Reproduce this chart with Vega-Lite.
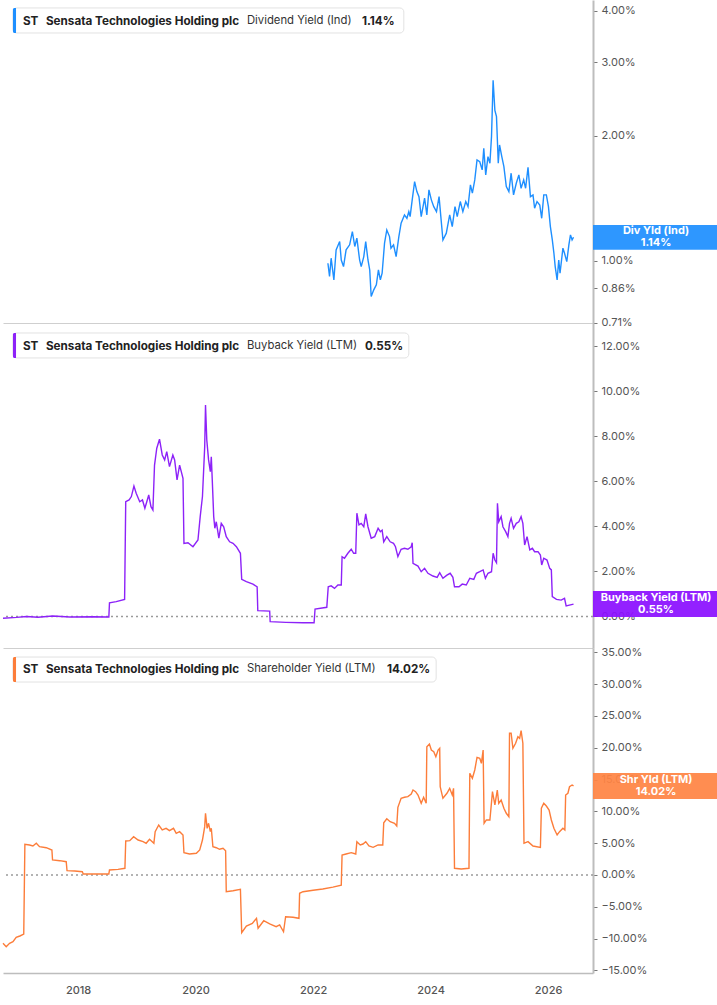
{
"$schema":"https://vega.github.io/schema/vega-lite/v6.json",
"padding":0,
"background":"white",
"spacing":0,
"bounds":"flush",
"config":{"view":{"stroke":null},"font":"Inter","axis":{"labelFont":"Inter","labelFontSize":11,"labelColor":"#555","grid":false,"domainColor":"#bdbdbd","tickColor":"#777"}},
"datasets":{
"div":[{"date":"2022-04-03","value":0.987},{"date":"2022-04-13","value":0.917},{"date":"2022-04-23","value":1.015},{"date":"2022-05-10","value":0.90},{"date":"2022-05-24","value":1.063},{"date":"2022-06-15","value":1.113},{"date":"2022-06-25","value":1.005},{"date":"2022-07-09","value":0.969},{"date":"2022-07-25","value":1.063},{"date":"2022-08-16","value":1.093},{"date":"2022-09-02","value":1.176},{"date":"2022-09-17","value":1.083},{"date":"2022-09-30","value":1.134},{"date":"2022-10-17","value":1.005},{"date":"2022-10-27","value":0.969},{"date":"2022-11-12","value":1.024},{"date":"2022-11-24","value":1.113},{"date":"2022-12-08","value":1.005},{"date":"2022-12-19","value":0.951},{"date":"2022-12-28","value":0.821},{"date":"2023-01-13","value":0.852},{"date":"2023-01-29","value":0.876},{"date":"2023-02-11","value":0.951},{"date":"2023-02-23","value":0.90},{"date":"2023-03-06","value":0.934},{"date":"2023-03-21","value":1.103},{"date":"2023-04-04","value":1.187},{"date":"2023-04-21","value":1.144},{"date":"2023-04-30","value":1.073},{"date":"2023-05-16","value":1.093},{"date":"2023-06-01","value":1.024},{"date":"2023-06-18","value":1.144},{"date":"2023-07-02","value":1.232},{"date":"2023-07-23","value":1.290},{"date":"2023-08-07","value":1.266},{"date":"2023-08-19","value":1.314},{"date":"2023-08-27","value":1.278},{"date":"2023-09-09","value":1.402},{"date":"2023-09-24","value":1.551},{"date":"2023-10-08","value":1.468},{"date":"2023-10-21","value":1.427},{"date":"2023-11-04","value":1.278},{"date":"2023-11-25","value":1.415},{"date":"2023-12-09","value":1.290},{"date":"2023-12-22","value":1.482},{"date":"2024-01-06","value":1.402},{"date":"2024-01-21","value":1.350},{"date":"2024-02-07","value":1.314},{"date":"2024-02-23","value":1.427},{"date":"2024-03-05","value":1.278},{"date":"2024-03-18","value":1.123},{"date":"2024-04-08","value":1.166},{"date":"2024-04-29","value":1.290},{"date":"2024-05-15","value":1.209},{"date":"2024-06-01","value":1.350},{"date":"2024-06-15","value":1.278},{"date":"2024-07-04","value":1.389},{"date":"2024-07-20","value":1.314},{"date":"2024-08-07","value":1.389},{"date":"2024-08-21","value":1.350},{"date":"2024-09-05","value":1.523},{"date":"2024-09-17","value":1.455},{"date":"2024-10-02","value":1.566},{"date":"2024-10-16","value":1.749},{"date":"2024-11-02","value":1.732},{"date":"2024-11-17","value":1.655},{"date":"2024-11-27","value":1.865},{"date":"2024-12-09","value":1.610},{"date":"2024-12-23","value":1.781},{"date":"2025-01-04","value":1.717},{"date":"2025-01-14","value":1.990},{"date":"2025-01-24","value":2.72},{"date":"2025-02-04","value":2.30},{"date":"2025-02-14","value":2.222},{"date":"2025-02-25","value":1.717},{"date":"2025-03-05","value":1.900},{"date":"2025-03-19","value":1.781},{"date":"2025-04-01","value":1.685},{"date":"2025-04-16","value":1.509},{"date":"2025-05-02","value":1.468},{"date":"2025-05-16","value":1.625},{"date":"2025-05-31","value":1.441},{"date":"2025-06-17","value":1.537},{"date":"2025-07-03","value":1.610},{"date":"2025-07-17","value":1.495},{"date":"2025-08-02","value":1.566},{"date":"2025-08-14","value":1.495},{"date":"2025-08-29","value":1.679},{"date":"2025-09-13","value":1.427},{"date":"2025-09-29","value":1.441},{"date":"2025-10-09","value":1.339},{"date":"2025-10-24","value":1.389},{"date":"2025-11-10","value":1.363},{"date":"2025-11-22","value":1.266},{"date":"2025-12-05","value":1.441},{"date":"2025-12-21","value":1.441},{"date":"2026-01-03","value":1.350},{"date":"2026-01-15","value":1.209},{"date":"2026-01-27","value":1.123},{"date":"2026-02-06","value":1.043},{"date":"2026-02-14","value":0.969},{"date":"2026-02-26","value":0.90},{"date":"2026-03-08","value":1.005},{"date":"2026-03-16","value":0.934},{"date":"2026-04-03","value":1.073},{"date":"2026-04-13","value":1.043},{"date":"2026-04-27","value":0.996},{"date":"2026-05-10","value":1.093},{"date":"2026-05-20","value":1.155},{"date":"2026-05-30","value":1.123},{"date":"2026-06-08","value":1.14}],
"bb":[{"date":"2016-09-21","value":-0.08},{"date":"2016-12-15","value":-0.04},{"date":"2017-02-14","value":0.0},{"date":"2017-04-26","value":-0.03},{"date":"2017-07-28","value":0.02},{"date":"2017-11-10","value":-0.02},{"date":"2018-04-03","value":-0.01},{"date":"2018-07-11","value":-0.02},{"date":"2018-07-15","value":0.61},{"date":"2018-08-26","value":0.66},{"date":"2018-10-17","value":0.76},{"date":"2018-10-24","value":5.10},{"date":"2018-11-14","value":5.18},{"date":"2018-11-28","value":5.33},{"date":"2018-12-14","value":5.80},{"date":"2018-12-28","value":5.48},{"date":"2019-01-19","value":5.10},{"date":"2019-02-05","value":5.18},{"date":"2019-02-20","value":4.81},{"date":"2019-03-04","value":5.10},{"date":"2019-03-16","value":5.40},{"date":"2019-03-30","value":4.88},{"date":"2019-04-11","value":4.73},{"date":"2019-04-21","value":6.73},{"date":"2019-05-05","value":7.48},{"date":"2019-05-22","value":7.88},{"date":"2019-06-08","value":7.18},{"date":"2019-06-23","value":6.96},{"date":"2019-07-06","value":7.33},{"date":"2019-07-23","value":6.66},{"date":"2019-08-13","value":7.18},{"date":"2019-08-24","value":6.96},{"date":"2019-09-08","value":6.07},{"date":"2019-09-24","value":6.73},{"date":"2019-10-15","value":6.14},{"date":"2019-10-21","value":3.25},{"date":"2019-11-15","value":3.28},{"date":"2019-12-16","value":3.10},{"date":"2020-01-16","value":3.40},{"date":"2020-01-30","value":4.44},{"date":"2020-02-13","value":5.33},{"date":"2020-02-27","value":7.55},{"date":"2020-03-03","value":9.40},{"date":"2020-03-11","value":7.84},{"date":"2020-03-22","value":6.96},{"date":"2020-04-02","value":6.44},{"date":"2020-04-08","value":7.10},{"date":"2020-04-14","value":6.07},{"date":"2020-04-23","value":4.44},{"date":"2020-04-30","value":3.92},{"date":"2020-05-09","value":4.21},{"date":"2020-05-25","value":3.48},{"date":"2020-06-09","value":4.14},{"date":"2020-06-24","value":3.99},{"date":"2020-07-10","value":3.55},{"date":"2020-07-31","value":3.32},{"date":"2020-08-21","value":3.25},{"date":"2020-09-11","value":3.10},{"date":"2020-10-06","value":2.81},{"date":"2020-10-14","value":1.65},{"date":"2020-11-12","value":1.55},{"date":"2020-12-23","value":1.44},{"date":"2021-01-18","value":1.32},{"date":"2021-01-22","value":0.26},{"date":"2021-04-06","value":0.24},{"date":"2021-04-09","value":-0.23},{"date":"2021-07-16","value":-0.26},{"date":"2021-10-30","value":-0.28},{"date":"2022-01-07","value":-0.28},{"date":"2022-01-13","value":0.33},{"date":"2022-03-27","value":0.41},{"date":"2022-04-05","value":1.32},{"date":"2022-04-23","value":1.36},{"date":"2022-05-14","value":1.25},{"date":"2022-06-04","value":1.40},{"date":"2022-06-25","value":1.40},{"date":"2022-06-30","value":2.66},{"date":"2022-07-15","value":2.59},{"date":"2022-08-05","value":2.81},{"date":"2022-08-26","value":2.99},{"date":"2022-09-10","value":2.81},{"date":"2022-09-23","value":2.81},{"date":"2022-09-30","value":4.59},{"date":"2022-10-13","value":4.07},{"date":"2022-10-27","value":4.14},{"date":"2022-11-12","value":3.99},{"date":"2022-11-24","value":4.56},{"date":"2022-12-08","value":3.99},{"date":"2022-12-28","value":3.48},{"date":"2023-01-19","value":3.55},{"date":"2023-02-09","value":3.92},{"date":"2023-02-23","value":3.77},{"date":"2023-03-06","value":3.84},{"date":"2023-03-16","value":3.32},{"date":"2023-04-04","value":3.55},{"date":"2023-04-25","value":3.32},{"date":"2023-05-16","value":3.25},{"date":"2023-05-28","value":3.10},{"date":"2023-06-12","value":2.66},{"date":"2023-07-02","value":2.99},{"date":"2023-07-23","value":3.03},{"date":"2023-08-13","value":2.99},{"date":"2023-09-03","value":3.10},{"date":"2023-09-09","value":3.28},{"date":"2023-09-14","value":2.36},{"date":"2023-10-15","value":2.24},{"date":"2023-11-04","value":1.99},{"date":"2023-11-25","value":2.14},{"date":"2023-12-16","value":1.92},{"date":"2024-01-16","value":1.80},{"date":"2024-02-11","value":1.74},{"date":"2024-02-27","value":1.95},{"date":"2024-03-18","value":1.70},{"date":"2024-04-12","value":1.84},{"date":"2024-05-02","value":1.92},{"date":"2024-05-19","value":1.74},{"date":"2024-05-29","value":1.32},{"date":"2024-06-26","value":1.32},{"date":"2024-07-16","value":1.44},{"date":"2024-08-10","value":1.40},{"date":"2024-09-01","value":1.70},{"date":"2024-09-26","value":1.65},{"date":"2024-10-12","value":1.92},{"date":"2024-11-02","value":1.99},{"date":"2024-11-23","value":2.07},{"date":"2024-12-07","value":1.70},{"date":"2024-12-23","value":1.92},{"date":"2025-01-14","value":1.99},{"date":"2025-01-24","value":2.81},{"date":"2025-02-04","value":2.51},{"date":"2025-02-14","value":2.39},{"date":"2025-02-20","value":5.03},{"date":"2025-02-28","value":4.21},{"date":"2025-03-15","value":4.44},{"date":"2025-03-26","value":3.99},{"date":"2025-04-12","value":3.77},{"date":"2025-04-26","value":3.55},{"date":"2025-05-06","value":4.14},{"date":"2025-05-16","value":4.36},{"date":"2025-05-31","value":3.92},{"date":"2025-06-17","value":4.14},{"date":"2025-07-03","value":4.21},{"date":"2025-07-17","value":4.44},{"date":"2025-07-28","value":4.14},{"date":"2025-08-08","value":3.18},{"date":"2025-08-23","value":3.55},{"date":"2025-09-09","value":2.96},{"date":"2025-09-25","value":3.03},{"date":"2025-10-09","value":2.88},{"date":"2025-10-30","value":2.88},{"date":"2025-11-14","value":2.73},{"date":"2025-11-22","value":2.29},{"date":"2025-12-05","value":2.59},{"date":"2025-12-25","value":2.51},{"date":"2026-01-11","value":2.14},{"date":"2026-01-21","value":2.07},{"date":"2026-01-27","value":0.88},{"date":"2026-02-22","value":0.76},{"date":"2026-03-23","value":0.73},{"date":"2026-04-13","value":0.81},{"date":"2026-04-23","value":0.47},{"date":"2026-06-08","value":0.55}],
"shy":[{"date":"2016-09-21","value":-10.74},{"date":"2016-10-11","value":-11.27},{"date":"2016-11-01","value":-10.74},{"date":"2016-11-22","value":-10.48},{"date":"2016-12-12","value":-9.80},{"date":"2017-01-04","value":-9.59},{"date":"2017-01-28","value":-9.28},{"date":"2017-02-04","value":4.82},{"date":"2017-03-05","value":4.72},{"date":"2017-03-26","value":4.56},{"date":"2017-04-16","value":4.98},{"date":"2017-05-06","value":4.45},{"date":"2017-06-17","value":4.29},{"date":"2017-07-22","value":3.93},{"date":"2017-07-26","value":2.36},{"date":"2017-09-09","value":2.25},{"date":"2017-10-19","value":2.09},{"date":"2017-10-24","value":0.68},{"date":"2017-12-11","value":0.63},{"date":"2018-01-27","value":0.52},{"date":"2018-02-02","value":0.16},{"date":"2018-04-23","value":0.16},{"date":"2018-07-11","value":0.16},{"date":"2018-07-15","value":0.79},{"date":"2018-09-06","value":0.89},{"date":"2018-10-19","value":1.05},{"date":"2018-10-24","value":5.35},{"date":"2018-11-18","value":5.40},{"date":"2018-12-12","value":6.03},{"date":"2019-01-09","value":5.50},{"date":"2019-02-09","value":5.24},{"date":"2019-02-28","value":4.98},{"date":"2019-03-21","value":5.61},{"date":"2019-04-17","value":4.98},{"date":"2019-04-25","value":6.81},{"date":"2019-05-17","value":7.86},{"date":"2019-06-08","value":7.08},{"date":"2019-07-02","value":7.34},{"date":"2019-07-23","value":6.97},{"date":"2019-08-17","value":7.34},{"date":"2019-09-03","value":6.56},{"date":"2019-09-24","value":6.81},{"date":"2019-10-15","value":6.29},{"date":"2019-10-21","value":3.51},{"date":"2019-11-25","value":3.30},{"date":"2020-01-06","value":3.41},{"date":"2020-01-27","value":3.93},{"date":"2020-02-13","value":5.50},{"date":"2020-02-27","value":7.60},{"date":"2020-03-03","value":9.70},{"date":"2020-03-13","value":7.34},{"date":"2020-03-22","value":8.13},{"date":"2020-04-02","value":6.81},{"date":"2020-04-08","value":7.34},{"date":"2020-04-18","value":4.45},{"date":"2020-05-09","value":4.29},{"date":"2020-05-29","value":4.04},{"date":"2020-06-20","value":4.20},{"date":"2020-07-06","value":3.82},{"date":"2020-07-10","value":-2.63},{"date":"2020-08-21","value":-2.47},{"date":"2020-10-06","value":-2.25},{"date":"2020-10-14","value":-9.07},{"date":"2020-11-12","value":-8.02},{"date":"2020-12-19","value":-7.60},{"date":"2021-01-14","value":-6.81},{"date":"2021-01-24","value":-8.38},{"date":"2021-02-28","value":-7.19},{"date":"2021-04-06","value":-7.70},{"date":"2021-05-16","value":-8.13},{"date":"2021-06-07","value":-7.86},{"date":"2021-07-01","value":-8.92},{"date":"2021-07-14","value":-6.56},{"date":"2021-08-29","value":-6.65},{"date":"2021-10-05","value":-6.81},{"date":"2021-10-09","value":-2.88},{"date":"2021-10-30","value":-2.63},{"date":"2022-01-01","value":-2.4},{"date":"2022-03-02","value":-2.2},{"date":"2022-05-04","value":-1.9},{"date":"2022-06-25","value":-1.6},{"date":"2022-06-30","value":3.14},{"date":"2022-07-25","value":3.30},{"date":"2022-08-26","value":3.51},{"date":"2022-09-23","value":3.30},{"date":"2022-09-30","value":5.24},{"date":"2022-10-21","value":4.72},{"date":"2022-11-07","value":4.87},{"date":"2022-11-24","value":5.24},{"date":"2022-12-14","value":4.56},{"date":"2023-01-09","value":4.35},{"date":"2023-02-09","value":4.72},{"date":"2023-03-10","value":4.72},{"date":"2023-03-16","value":8.22},{"date":"2023-04-04","value":8.85},{"date":"2023-04-25","value":8.38},{"date":"2023-05-22","value":8.13},{"date":"2023-06-05","value":7.70},{"date":"2023-06-12","value":10.64},{"date":"2023-07-02","value":12.06},{"date":"2023-07-23","value":12.22},{"date":"2023-08-13","value":12.32},{"date":"2023-09-03","value":12.74},{"date":"2023-09-14","value":13.36},{"date":"2023-09-30","value":13.10},{"date":"2023-10-15","value":12.58},{"date":"2023-11-04","value":11.27},{"date":"2023-11-19","value":12.22},{"date":"2023-12-05","value":11.27},{"date":"2023-12-09","value":20.17},{"date":"2023-12-25","value":20.60},{"date":"2024-01-06","value":19.65},{"date":"2024-01-21","value":19.39},{"date":"2024-02-03","value":18.60},{"date":"2024-02-17","value":19.65},{"date":"2024-02-27","value":19.92},{"date":"2024-03-01","value":13.88},{"date":"2024-03-18","value":12.06},{"date":"2024-04-12","value":12.85},{"date":"2024-04-29","value":13.63},{"date":"2024-05-15","value":12.58},{"date":"2024-05-23","value":13.63},{"date":"2024-05-29","value":1.05},{"date":"2024-07-10","value":0.94},{"date":"2024-08-27","value":1.05},{"date":"2024-09-01","value":15.99},{"date":"2024-09-17","value":15.20},{"date":"2024-10-02","value":16.51},{"date":"2024-10-16","value":18.50},{"date":"2024-11-02","value":18.35},{"date":"2024-11-12","value":17.56},{"date":"2024-11-23","value":19.65},{"date":"2024-11-29","value":8.13},{"date":"2024-12-13","value":8.65},{"date":"2025-01-04","value":8.65},{"date":"2025-01-20","value":13.10},{"date":"2025-02-04","value":11.01},{"date":"2025-02-19","value":13.36},{"date":"2025-02-28","value":11.27},{"date":"2025-03-15","value":11.79},{"date":"2025-04-01","value":10.49},{"date":"2025-04-16","value":9.70},{"date":"2025-05-02","value":9.17},{"date":"2025-05-06","value":22.28},{"date":"2025-05-16","value":22.28},{"date":"2025-05-27","value":19.92},{"date":"2025-06-13","value":20.71},{"date":"2025-06-27","value":21.75},{"date":"2025-07-08","value":21.49},{"date":"2025-07-17","value":22.69},{"date":"2025-07-28","value":20.71},{"date":"2025-08-04","value":4.98},{"date":"2025-08-29","value":5.24},{"date":"2025-09-29","value":4.56},{"date":"2025-11-14","value":4.35},{"date":"2025-11-20","value":10.49},{"date":"2025-12-05","value":11.27},{"date":"2025-12-21","value":10.85},{"date":"2026-01-07","value":10.22},{"date":"2026-01-21","value":8.65},{"date":"2026-02-06","value":7.34},{"date":"2026-02-26","value":6.29},{"date":"2026-03-13","value":6.81},{"date":"2026-04-03","value":7.34},{"date":"2026-04-15","value":7.08},{"date":"2026-04-20","value":12.58},{"date":"2026-05-04","value":12.85},{"date":"2026-05-14","value":13.88},{"date":"2026-05-30","value":14.15},{"date":"2026-06-08","value":14.02}]
},
"vconcat":[
{"width":590,"height":323,
"layer":[
{"data":{"name":"div"},"mark":{"type":"line","color":"#1e8fff","strokeWidth":1.4},
"encoding":{"x":{"field":"date","type":"temporal","scale":{"domain":[{"year":2016,"month":9,"date":21},{"year":2026,"month":10,"date":7}]},"axis":{"title":null,"labels":false,"ticks":false,"domainColor":"#cfcfcf","domainWidth":1}},
"y":{"field":"value","type":"quantitative","scale":{"type":"log","domain":[0.709,4.24],"nice":false},"axis":{"orient":"right","title":null,"values":[0.71,0.86,1,2,3,4],"tickCount":20,"labelExpr":"format(datum.value,'.2f')+'%'","domainWidth":2,"tickSize":4,"labelPadding":4,"labelOverlap":false}}}},
{"data":{"values":[{}]},"mark":{"type":"rect","fill":"white","stroke":"#e2e2e2","strokeWidth":1,"cornerRadius":4},
"encoding":{"x":{"datum":{"year":2016,"month":11,"date":22},"type":"temporal","title":null},"x2":{"datum":{"year":2023,"month":7,"date":19}},"y":{"datum":4.057,"title":null},"y2":{"datum":3.532}}},
{"data":{"values":[{}]},"mark":{"type":"rect","fill":"#1e8fff","cornerRadiusTopLeft":3,"cornerRadiusBottomLeft":3},
"encoding":{"x":{"datum":{"year":2016,"month":11,"date":22},"type":"temporal","title":null},"x2":{"datum":{"year":2016,"month":12,"date":11}},"y":{"datum":4.057,"title":null},"y2":{"datum":3.532}}},
{"data":{"values":[{}]},"mark":{"type":"text","text":"ST","align":"left","baseline":"middle","fontSize":11.7,"fontWeight":"bold","color":"#222"},
"encoding":{"x":{"datum":{"year":2017,"month":1,"date":23},"type":"temporal","title":null},"y":{"datum":3.785,"title":null}}},
{"data":{"values":[{}]},"mark":{"type":"text","text":"Sensata Technologies Holding plc","align":"left","baseline":"middle","dx":23,"fontSize":11.7,"fontWeight":"bold","color":"#222"},
"encoding":{"x":{"datum":{"year":2017,"month":1,"date":23},"type":"temporal","title":null},"y":{"datum":3.785,"title":null}}},
{"data":{"values":[{}]},"mark":{"type":"text","text":"Dividend Yield (Ind)","align":"left","baseline":"middle","dx":224,"fontSize":11.3,"fontWeight":"normal","color":"#333"},
"encoding":{"x":{"datum":{"year":2017,"month":1,"date":23},"type":"temporal","title":null},"y":{"datum":3.785,"title":null}}},
{"data":{"values":[{}]},"mark":{"type":"text","text":"1.14%","align":"left","baseline":"middle","dx":339,"fontSize":11.7,"fontWeight":"bold","color":"#222"},
"encoding":{"x":{"datum":{"year":2017,"month":1,"date":23},"type":"temporal","title":null},"y":{"datum":3.785,"title":null}}},
{"data":{"values":[{}]},"mark":{"type":"rect","fill":"#1e8fff","fillOpacity":0.93},
"encoding":{"x":{"datum":{"year":2026,"month":10,"date":7},"type":"temporal","title":null},"x2":{"datum":{"year":2028,"month":12,"date":1}},"y":{"datum":1.22,"title":null},"y2":{"datum":1.063}}},
{"data":{"values":[{}]},"mark":{"type":"text","text":"Div Yld (Ind)","align":"center","baseline":"middle","dy":-6,"fontSize":11,"fontWeight":"bold","color":"white"},
"encoding":{"x":{"datum":{"year":2027,"month":11,"date":3},"type":"temporal","title":null},"y":{"datum":1.14,"title":null}}},
{"data":{"values":[{}]},"mark":{"type":"text","text":"1.14%","align":"center","baseline":"middle","dy":6,"fontSize":11,"fontWeight":"bold","color":"white"},
"encoding":{"x":{"datum":{"year":2027,"month":11,"date":3},"type":"temporal","title":null},"y":{"datum":1.14,"title":null}}}
]},
{"width":590,"height":325,
"layer":[
{"data":{"values":[{}]},"mark":{"type":"rule","color":"#9a9a9a","strokeDash":[2,3],"strokeWidth":1.5},"encoding":{"y":{"datum":0,"type":"quantitative","scale":{"domain":[-1.4,13.044],"nice":false,"zero":false},"axis":{"orient":"right","title":null,"values":[0,2,4,6,8,10,12],"tickCount":20,"labelExpr":"format(datum.value,'.2f')+'%'","domainWidth":2,"tickSize":4,"labelPadding":4,"labelOverlap":false}}}},
{"data":{"name":"bb"},"mark":{"type":"line","color":"#8d22f8","strokeWidth":1.4},
"encoding":{"x":{"field":"date","type":"temporal","scale":{"domain":[{"year":2016,"month":9,"date":21},{"year":2026,"month":10,"date":7}]},"axis":{"title":null,"labels":false,"ticks":false,"domainColor":"#cfcfcf","domainWidth":1}},
"y":{"field":"value","type":"quantitative","scale":{"domain":[-1.4,13.044],"nice":false,"zero":false},"axis":{"orient":"right","title":null,"values":[0,2,4,6,8,10,12],"tickCount":20,"labelExpr":"format(datum.value,'.2f')+'%'","domainWidth":2,"tickSize":4,"labelPadding":4,"labelOverlap":false}}}},
{"data":{"values":[{}]},"mark":{"type":"rect","fill":"white","stroke":"#e2e2e2","strokeWidth":1,"cornerRadius":4},
"encoding":{"x":{"datum":{"year":2016,"month":11,"date":22},"type":"temporal","title":null},"x2":{"datum":{"year":2023,"month":8,"date":19}},"y":{"datum":12.6,"title":null},"y2":{"datum":11.49}}},
{"data":{"values":[{}]},"mark":{"type":"rect","fill":"#8d22f8","cornerRadiusTopLeft":3,"cornerRadiusBottomLeft":3},
"encoding":{"x":{"datum":{"year":2016,"month":11,"date":22},"type":"temporal","title":null},"x2":{"datum":{"year":2016,"month":12,"date":11}},"y":{"datum":12.6,"title":null},"y2":{"datum":11.49}}},
{"data":{"values":[{}]},"mark":{"type":"text","text":"ST","align":"left","baseline":"middle","fontSize":11.7,"fontWeight":"bold","color":"#222"},
"encoding":{"x":{"datum":{"year":2017,"month":1,"date":23},"type":"temporal","title":null},"y":{"datum":12.02,"title":null}}},
{"data":{"values":[{}]},"mark":{"type":"text","text":"Sensata Technologies Holding plc","align":"left","baseline":"middle","dx":23,"fontSize":11.7,"fontWeight":"bold","color":"#222"},
"encoding":{"x":{"datum":{"year":2017,"month":1,"date":23},"type":"temporal","title":null},"y":{"datum":12.02,"title":null}}},
{"data":{"values":[{}]},"mark":{"type":"text","text":"Buyback Yield (LTM)","align":"left","baseline":"middle","dx":224,"fontSize":11.3,"fontWeight":"normal","color":"#333"},
"encoding":{"x":{"datum":{"year":2017,"month":1,"date":23},"type":"temporal","title":null},"y":{"datum":12.02,"title":null}}},
{"data":{"values":[{}]},"mark":{"type":"text","text":"0.55%","align":"left","baseline":"middle","dx":342,"fontSize":11.7,"fontWeight":"bold","color":"#222"},
"encoding":{"x":{"datum":{"year":2017,"month":1,"date":23},"type":"temporal","title":null},"y":{"datum":12.02,"title":null}}},
{"data":{"values":[{}]},"mark":{"type":"rect","fill":"#8b10ff","fillOpacity":0.93},
"encoding":{"x":{"datum":{"year":2026,"month":10,"date":7},"type":"temporal","title":null},"x2":{"datum":{"year":2028,"month":12,"date":1}},"y":{"datum":1.134,"title":null},"y2":{"datum":-0.022}}},
{"data":{"values":[{}]},"mark":{"type":"text","text":"Buyback Yield (LTM)","align":"center","baseline":"middle","dy":-6,"fontSize":11,"fontWeight":"bold","color":"white"},
"encoding":{"x":{"datum":{"year":2027,"month":11,"date":3},"type":"temporal","title":null},"y":{"datum":0.55,"title":null}}},
{"data":{"values":[{}]},"mark":{"type":"text","text":"0.55%","align":"center","baseline":"middle","dy":6,"fontSize":11,"fontWeight":"bold","color":"white"},
"encoding":{"x":{"datum":{"year":2027,"month":11,"date":3},"type":"temporal","title":null},"y":{"datum":0.55,"title":null}}}
]},
{"width":590,"height":325,
"layer":[
{"data":{"values":[{}]},"mark":{"type":"rule","color":"#9a9a9a","strokeDash":[2,3],"strokeWidth":1.5},"encoding":{"y":{"datum":0,"type":"quantitative","scale":{"domain":[-15.41,35.69],"nice":false,"zero":false},"axis":{"orient":"right","title":null,"values":[-15,-10,-5,0,5,10,15,20,25,30,35],"tickCount":20,"labelExpr":"format(datum.value,'.2f')+'%'","domainWidth":2,"tickSize":4,"labelPadding":4,"labelOverlap":false}}}},
{"data":{"name":"shy"},"mark":{"type":"line","color":"#fc7d3a","strokeWidth":1.4},
"encoding":{"x":{"field":"date","type":"temporal","scale":{"domain":[{"year":2016,"month":9,"date":21},{"year":2026,"month":10,"date":7}]},"axis":{"title":null,"values":[{"year":2018,"month":1,"date":1},{"year":2020,"month":1,"date":1},{"year":2022,"month":1,"date":1},{"year":2024,"month":1,"date":1},{"year":2026,"month":1,"date":1}],"format":"%Y","ticks":false,"labelPadding":11,"labelFlush":false,"domainColor":"#bdbdbd","domainWidth":1.5,"labelFontWeight":500}},
"y":{"field":"value","type":"quantitative","scale":{"domain":[-15.41,35.69],"nice":false,"zero":false},"axis":{"orient":"right","title":null,"values":[-15,-10,-5,0,5,10,15,20,25,30,35],"tickCount":20,"labelExpr":"format(datum.value,'.2f')+'%'","domainWidth":2,"tickSize":4,"labelPadding":4,"labelOverlap":false}}}},
{"data":{"values":[{}]},"mark":{"type":"rect","fill":"white","stroke":"#e2e2e2","strokeWidth":1,"cornerRadius":4},
"encoding":{"x":{"datum":{"year":2016,"month":11,"date":22},"type":"temporal","title":null},"x2":{"datum":{"year":2024,"month":2,"date":5}},"y":{"datum":34.27,"title":null},"y2":{"datum":30.34}}},
{"data":{"values":[{}]},"mark":{"type":"rect","fill":"#fc7d3a","cornerRadiusTopLeft":3,"cornerRadiusBottomLeft":3},
"encoding":{"x":{"datum":{"year":2016,"month":11,"date":22},"type":"temporal","title":null},"x2":{"datum":{"year":2016,"month":12,"date":11}},"y":{"datum":34.27,"title":null},"y2":{"datum":30.34}}},
{"data":{"values":[{}]},"mark":{"type":"text","text":"ST","align":"left","baseline":"middle","fontSize":11.7,"fontWeight":"bold","color":"#222"},
"encoding":{"x":{"datum":{"year":2017,"month":1,"date":23},"type":"temporal","title":null},"y":{"datum":32.39,"title":null}}},
{"data":{"values":[{}]},"mark":{"type":"text","text":"Sensata Technologies Holding plc","align":"left","baseline":"middle","dx":23,"fontSize":11.7,"fontWeight":"bold","color":"#222"},
"encoding":{"x":{"datum":{"year":2017,"month":1,"date":23},"type":"temporal","title":null},"y":{"datum":32.39,"title":null}}},
{"data":{"values":[{}]},"mark":{"type":"text","text":"Shareholder Yield (LTM)","align":"left","baseline":"middle","dx":224,"fontSize":11.3,"fontWeight":"normal","color":"#333"},
"encoding":{"x":{"datum":{"year":2017,"month":1,"date":23},"type":"temporal","title":null},"y":{"datum":32.39,"title":null}}},
{"data":{"values":[{}]},"mark":{"type":"text","text":"14.02%","align":"left","baseline":"middle","dx":364,"fontSize":11.7,"fontWeight":"bold","color":"#222"},
"encoding":{"x":{"datum":{"year":2017,"month":1,"date":23},"type":"temporal","title":null},"y":{"datum":32.39,"title":null}}},
{"data":{"values":[{}]},"mark":{"type":"rect","fill":"#ff8444","fillOpacity":0.93},
"encoding":{"x":{"datum":{"year":2026,"month":10,"date":7},"type":"temporal","title":null},"x2":{"datum":{"year":2028,"month":12,"date":1}},"y":{"datum":16.04,"title":null},"y2":{"datum":11.95}}},
{"data":{"values":[{}]},"mark":{"type":"text","text":"Shr Yld (LTM)","align":"center","baseline":"middle","dy":-6,"fontSize":11,"fontWeight":"bold","color":"white"},
"encoding":{"x":{"datum":{"year":2027,"month":11,"date":3},"type":"temporal","title":null},"y":{"datum":14.02,"title":null}}},
{"data":{"values":[{}]},"mark":{"type":"text","text":"14.02%","align":"center","baseline":"middle","dy":6,"fontSize":11,"fontWeight":"bold","color":"white"},
"encoding":{"x":{"datum":{"year":2027,"month":11,"date":3},"type":"temporal","title":null},"y":{"datum":14.02,"title":null}}}
]}
]
}
